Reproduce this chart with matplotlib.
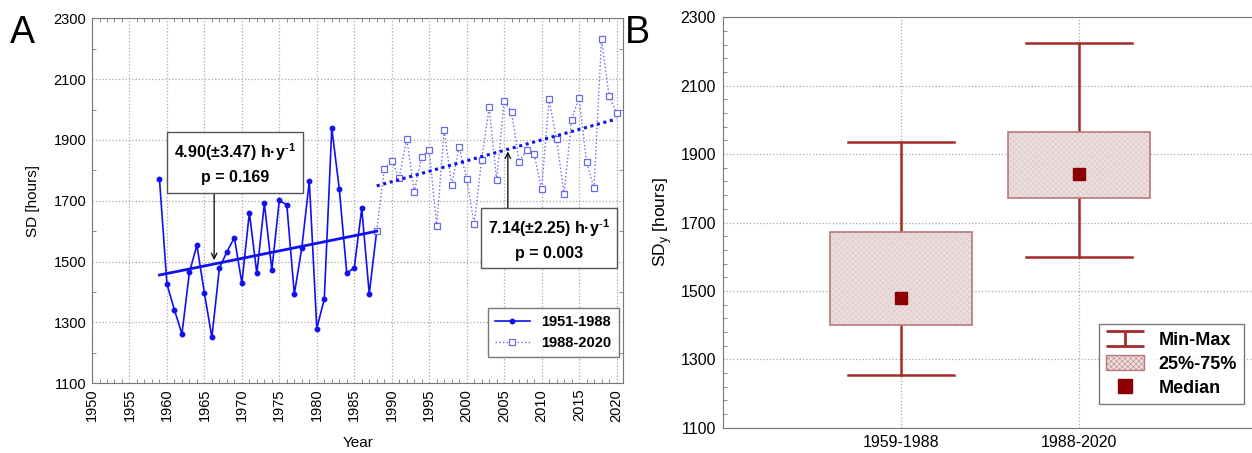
import matplotlib
matplotlib.use("Agg")
import matplotlib.pyplot as plt
import numpy as np
from matplotlib.collections import LineCollection
from matplotlib.legend_handler import HandlerBase
from matplotlib.lines import Line2D
from matplotlib.patches import Patch, Rectangle
from matplotlib.ticker import FixedLocator, MultipleLocator

plt.rcParams["font.family"] = ["Liberation Sans", "DejaVu Sans"]
plt.rcParams["mathtext.fontset"] = "custom"
plt.rcParams["mathtext.rm"] = "Liberation Sans"
plt.rcParams["mathtext.bf"] = "Liberation Sans:bold"
plt.rcParams["hatch.linewidth"] = 0.35

# ---- panel A data: annual sunshine duration [hours]
years_1 = list(range(1959, 1989))
sd_1 = [1772, 1426, 1341, 1262, 1465, 1554, 1396, 1251, 1479, 1532,
        1579, 1429, 1661, 1461, 1692, 1473, 1702, 1686, 1393, 1545,
        1765, 1280, 1377, 1939, 1739, 1462, 1480, 1675, 1394, 1602]
years_2 = list(range(1988, 2021))
sd_2 = [1602, 1805, 1831, 1776, 1904, 1730, 1845, 1867, 1617, 1934,
        1751, 1877, 1772, 1624, 1834, 2007, 1770, 2027, 1991, 1829,
        1866, 1854, 1738, 2034, 1902, 1721, 1967, 2039, 1827, 1742,
        2231, 2045, 1990]
trend_1_x = [1959, 1988]
trend_1_y = [1456, 1600]
trend_2_x = [1988, 2020]
trend_2_y = [1749, 1969]
label_1 = "4.90(±3.47) h·y$^{\\mathbf{\\text{-}1}}$\np = 0.169"
label_2 = "7.14(±2.25) h·y$^{\\mathbf{\\text{-}1}}$\np = 0.003"

# ---- panel B data: summary statistics per period
periods = ["1959-1988", "1988-2020"]
mins = [1254, 1598]
q1 = [1400, 1771]
medians = [1480, 1843]
q3 = [1673, 1965]
maxs = [1936, 2226]

y_ticks = np.arange(1100, 2301, 200)

blue = "#1010f0"
blue2 = "#6a6ae6"
dred = "#8b0000"
wred = "#a52a2a"
grid_kw = dict(color="#a8a8a8", linestyle=":", linewidth=0.9)
spine_col = "#777777"


class IBeamHandler(HandlerBase):
    def create_artists(self, legend, orig_handle, xdescent, ydescent,
                       width, height, fontsize, trans):
        x0, x1 = -xdescent, -xdescent + width
        y0, y1 = -ydescent, -ydescent + height
        xm = (x0 + x1) / 2
        segs = [[(x0, y1), (x1, y1)], [(xm, y1), (xm, y0)], [(x0, y0), (x1, y0)]]
        return [LineCollection(segs, colors=wred, linewidths=2, transform=trans)]


fig = plt.figure(figsize=(12.52, 4.53), dpi=100)

# ================= panel A
ax = fig.add_axes([0.0735, 0.1539, 0.4243, 0.8057])
ax.plot(years_1, sd_1, color=blue, lw=1.2, marker="o", ms=3.2, label="1951-1988", zorder=3)
ax.plot(years_2, sd_2, color=blue2, lw=1.0, ls=":", marker="s", ms=4, mfc="white",
        mec=blue2, mew=0.9, label="1988-2020", zorder=3)
ax.plot(trend_1_x, trend_1_y, color=blue, lw=2.0, zorder=4)
ax.plot(trend_2_x, trend_2_y, color=blue, lw=2.2, ls=(0, (1, 1.2)), zorder=4)

ax.set_xlim(1950, 2020.9)
ax.set_ylim(1100, 2300)
ax.xaxis.set_major_locator(MultipleLocator(5))
ax.xaxis.set_minor_locator(MultipleLocator(1))
ax.yaxis.set_major_locator(FixedLocator(y_ticks))
ax.yaxis.set_minor_locator(MultipleLocator(100))
ax.tick_params(which="both", direction="in", top=True, right=True, color=spine_col)
ax.tick_params(which="major", length=0, labelsize=10.5, pad=4)
ax.tick_params(which="minor", length=3, width=0.6)
ax.tick_params(axis="x", labelrotation=90)
ax.grid(True, which="major", **grid_kw)
for s in ax.spines.values():
    s.set_color(spine_col)
ax.set_xlabel("Year", fontsize=11, labelpad=10)
ax.set_ylabel("SD [hours]", fontsize=11, labelpad=10)

box_kw = dict(boxstyle="square,pad=0.45", fc="white", ec="#555555", lw=1)
ax.text(1969.1, 1823, label_1, ha="center", va="center", fontsize=11.5,
        fontweight="bold", linespacing=1.6, bbox=box_kw, zorder=6)
ax.text(2011.0, 1574, label_2, ha="center", va="center", fontsize=11.5,
        fontweight="bold", linespacing=1.6, bbox=box_kw, zorder=6)
arrow_kw = dict(arrowstyle="->", color="black", lw=0.9, shrinkA=0, shrinkB=0)
ax.annotate("", xy=(1966.3, 1505), xytext=(1966.3, 1729), arrowprops=arrow_kw, zorder=5)
ax.annotate("", xy=(2005.5, 1862), xytext=(2005.5, 1670), arrowprops=arrow_kw, zorder=5)

leg = ax.legend(loc="lower right", bbox_to_anchor=(0.992, 0.072), borderaxespad=0,
                prop={"weight": "bold", "size": 10.5}, frameon=True, fancybox=False,
                edgecolor="#555555", handlelength=2.4, borderpad=0.5, labelspacing=0.45)
leg.get_frame().set_linewidth(1)
leg.set_zorder(7)

fig.text(0.008, 0.905, "A", fontsize=27)

# ================= panel B
bx = fig.add_axes([0.5775, 0.0558, 0.4265, 0.906])
pos = np.arange(1, len(periods) + 1)
bw = 0.8
cw = 0.6
for p, lo, a, m, b, hi in zip(pos, mins, q1, medians, q3, maxs):
    bx.plot([p, p], [lo, a], color=wred, lw=1.8, zorder=3)
    bx.plot([p, p], [b, hi], color=wred, lw=1.8, zorder=3)
    bx.plot([p - cw / 2, p + cw / 2], [lo, lo], color=wred, lw=1.8, zorder=3)
    bx.plot([p - cw / 2, p + cw / 2], [hi, hi], color=wred, lw=1.8, zorder=3)
    bx.add_patch(Rectangle((p - bw / 2, a), bw, b - a, fc="#ecdede", ec="#dac4c4",
                           hatch="xxxxxx", lw=0, zorder=3))
    bx.add_patch(Rectangle((p - bw / 2, a), bw, b - a, fc="none", ec="#b87a7a",
                           lw=1.2, zorder=4))
bx.plot(pos, medians, ls="none", marker="s", ms=9, color=dred, zorder=5)

bx.set_xlim(0, 3)
bx.set_ylim(1100, 2300)
bx.set_xticks(pos)
bx.set_xticklabels(periods)
bx.yaxis.set_major_locator(FixedLocator(y_ticks))
bx.yaxis.set_minor_locator(FixedLocator(np.arange(1100, 2301, 40)))
bx.tick_params(which="both", direction="in", color=spine_col)
bx.tick_params(which="major", length=0, labelsize=11.5, pad=5)
bx.tick_params(which="minor", length=3, width=0.6)
bx.grid(True, which="major", **grid_kw)
for s in bx.spines.values():
    s.set_color(spine_col)
bx.set_ylabel("SD$_\\mathregular{y}$ [hours]", fontsize=12.5, labelpad=5)

handles = [Line2D([], [], color=wred),
           Patch(fc="#ecdede", ec="#b87a7a", hatch="xxxxxx", lw=1),
           Line2D([], [], ls="none", marker="s", ms=10, color=dred)]
leg2 = bx.legend(handles, ["Min-Max", "25%-75%", "Median"], loc="lower right",
                 bbox_to_anchor=(0.976, 0.058), borderaxespad=0,
                 prop={"weight": "bold", "size": 13},
                 frameon=True, fancybox=False, edgecolor="#555555",
                 handlelength=2.1, handleheight=0.9, borderpad=0.4, labelspacing=0.35,
                 handler_map={handles[0]: IBeamHandler()})
leg2.get_frame().set_linewidth(1)
leg2.set_zorder(7)

fig.text(0.499, 0.905, "B", fontsize=27)

fig.savefig("out.png", dpi=100)
